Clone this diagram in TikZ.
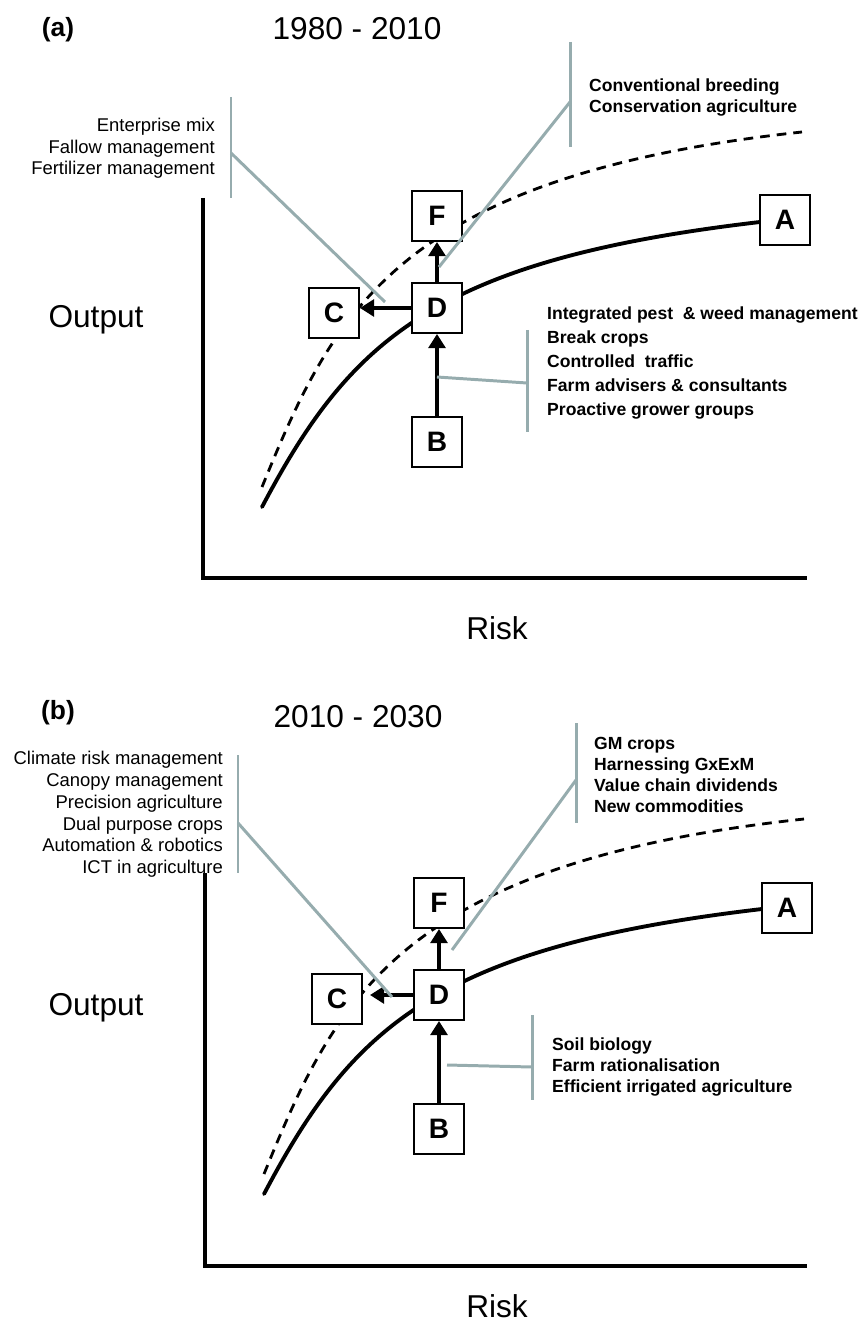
\documentclass[tikz,border=0pt]{standalone}
\usepackage{fontspec}
\setmainfont{Liberation Sans}
\usepackage{tikz}
\usetikzlibrary{arrows.meta}
\definecolor{linegrey}{RGB}{150,172,174}

\begin{document}
\begin{tikzpicture}[x=0.02cm,y=-0.02cm,
  box/.style={draw,line width=1.1pt,fill=white,minimum size=1cm,inner sep=0pt,font=\fontsize{16}{16}\selectfont\bfseries},
  axis/.style={line width=2.5pt},
  curve/.style={line width=2.2pt,line cap=round},
  dcurve/.style={line width=1.6pt,dash pattern=on 5.5pt off 4pt},
  push/.style={line width=2.7pt,-{Triangle[length=8pt,width=9.5pt]}},
  grey/.style={draw=linegrey,line width=1.7pt},
  lefttxt/.style={anchor=east,align=right,font=\fontsize{10.5}{12.3}\selectfont},
  righttxt/.style={anchor=west,align=left,font=\fontsize{10}{12.1}\selectfont\bfseries},
  big/.style={font=\fontsize{18}{18}\selectfont},
  tag/.style={font=\fontsize{15}{15}\selectfont\bfseries}]
\useasboundingbox (0,0) rectangle (862,1327);

% (a) 1980 - 2010
\node[tag] (tagA) at (58,30) {(a)};
\node[big] (yrA) at (357,29) {1980 - 2010};
\node[big] (outA) at (96,320) {Output};
\node[big] (riskA) at (497,628) {Risk};
\draw[axis] (203,198) -- (203,578) -- (807,578);
\draw[curve] (262,507) .. controls (350,340) and (435,260) .. (760,222);
\draw[dcurve] (262,487) .. controls (332,316) and (394,176) .. (802,132);
\node[box] (Fa) at (437,216) {F};
\node[box] (Da) at (437,308) {D};
\node[box] (Ca) at (334,313) {C};
\node[box] (Ba) at (437,442) {B};
\node[box] (Aa) at (785,220) {A};
\draw[push] (Da) -- (Fa);
\draw[push] (Ba) -- (Da);
\draw[push] (Da.west) -- (Da.west -| Ca.east);
\coordinate (mixAend) at (385,302);
\coordinate (breedAend) at (439,267);
\coordinate (pestAend) at (437,377);
\draw[grey] (231,97) -- (231,198);
\draw[grey] (231,153) -- (mixAend);
\draw[grey] (570,42) -- (570,147);
\draw[grey] (570,102) -- (breedAend);
\draw[grey] (527,330) -- (527,432);
\draw[grey] (527,383) -- (pestAend);
\node[lefttxt] (mixA) at (221,148.5) {Enterprise mix\\Fallow management\\Fertilizer management};
\node[righttxt] (breedA) at (583,97.5) {Conventional breeding\\Conservation agriculture};
\node[righttxt,font=\fontsize{10}{13.6}\selectfont\bfseries] (pestA) at (541,363) {Integrated pest~~\& weed management\\Break crops\\Controlled~~traffic\\Farm advisers \& consultants\\Proactive grower groups};

% (b) 2010 - 2030
\node[tag] (tagB) at (58,713) {(b)};
\node[big] (yrB) at (358,717) {2010 - 2030};
\node[big] (outB) at (96,1008) {Output};
\node[big] (riskB) at (497,1306) {Risk};
\draw[axis] (205,873) -- (205,1266) -- (807,1266);
\draw[curve] (264,1194) .. controls (352,1027) and (437,947) .. (762,909);
\draw[dcurve] (264,1174) .. controls (334,1003) and (396,863) .. (804,819);
\node[box] (Fb) at (439,903) {F};
\node[box] (Db) at (439,995) {D};
\node[box] (Cb) at (337,999) {C};
\node[box] (Bb) at (439,1129) {B};
\node[box] (Ab) at (787,908) {A};
\draw[push] (Db) -- (Fb);
\draw[push] (Bb) -- (Db);
\draw[push] (Db.west) -- ([xshift=4pt]Db.west -| Cb.east);
\coordinate (climBend) at (392,997);
\coordinate (gmBend) at (452,950);
\coordinate (soilBend) at (447,1065);
\draw[grey] (238,755) -- (238,873);
\draw[grey] (238,823) -- (climBend);
\draw[grey] (576,723) -- (576,823);
\draw[grey] (576,780) -- (gmBend);
\draw[grey] (532,1015) -- (532,1100);
\draw[grey] (532,1067) -- (soilBend);
\node[lefttxt,font=\fontsize{10.5}{12.4}\selectfont] (climB) at (229,814.5) {Climate risk management\\Canopy management\\Precision agriculture\\Dual purpose crops\\Automation \& robotics\\ICT in agriculture};
\node[righttxt] (gmB) at (588,775) {GM crops\\Harnessing GxExM\\Value chain dividends\\New commodities};
\node[righttxt] (soilB) at (546,1067) {Soil biology\\Farm rationalisation\\Efficient irrigated agriculture};
\end{tikzpicture}
\end{document}
